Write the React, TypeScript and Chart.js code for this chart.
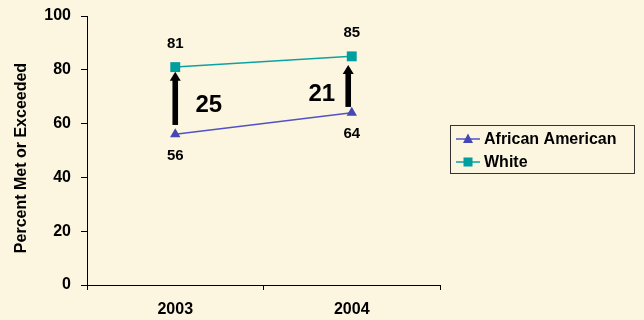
import React, { useEffect, useRef } from "react";
import { Chart, registerables } from "chart.js";

Chart.register(...registerables);

const years = ["2003", "2004"];
const africanAmerican = [56, 64];
const white = [81, 85];
const seriesNames = ["African American", "White"];
const gapLabels = ["25", "21"];
const gapLabelX = [0.19, 0.83];
const gapLabelY = [66.9, 70.9];
const arrowX = [0, 0.98];
const arrowFrom = [59.5, 66.2];
const arrowTo = [79.3, 81.8];
const yAxisTitle = "Percent Met or Exceeded";

const FONT = "'Liberation Sans', Arial, sans-serif";
const BG = "#FCF5DF";
const AA_LINE = "#5252C6";
const AA_MARK = "#4646B4";
const W_LINE = "#0AA3A3";
const W_MARK = "#009E9E";

function drawArrow(ctx: CanvasRenderingContext2D, x: number, yBottom: number, yTip: number) {
  const headH = 9;
  const headW = 11;
  ctx.save();
  ctx.fillStyle = "#000";
  ctx.fillRect(x - 2.8, yTip + headH - 1, 5.6, yBottom - yTip - headH + 1);
  ctx.beginPath();
  ctx.moveTo(x, yTip);
  ctx.lineTo(x - headW / 2, yTip + headH);
  ctx.lineTo(x + headW / 2, yTip + headH);
  ctx.closePath();
  ctx.fill();
  ctx.restore();
}

const annotations = {
  id: "annotations",
  beforeDraw(chart: any) {
    const ctx = chart.ctx;
    ctx.save();
    ctx.fillStyle = BG;
    ctx.fillRect(0, 0, chart.width, chart.height);
    ctx.restore();
  },
  afterDatasetsDraw(chart: any) {
    const ctx: CanvasRenderingContext2D = chart.ctx;
    const xs = chart.scales.x;
    const ys = chart.scales.y;
    arrowX.forEach((v, i) => {
      drawArrow(ctx, xs.getPixelForValue(v), ys.getPixelForValue(arrowFrom[i]), ys.getPixelForValue(arrowTo[i]));
    });
    ctx.save();
    ctx.fillStyle = "#000";
    ctx.textAlign = "center";
    ctx.textBaseline = "middle";
    ctx.font = `bold 24px ${FONT}`;
    gapLabels.forEach((t, i) => {
      ctx.fillText(t, xs.getPixelForValue(gapLabelX[i]), ys.getPixelForValue(gapLabelY[i]));
    });
    ctx.font = `bold 15px ${FONT}`;
    white.forEach((v, i) => {
      ctx.fillText(String(v), xs.getPixelForValue(i), ys.getPixelForValue(v) - 23);
    });
    africanAmerican.forEach((v, i) => {
      ctx.fillText(String(v), xs.getPixelForValue(i), ys.getPixelForValue(v) + 21);
    });
    ctx.save();
    ctx.font = `bold 16px ${FONT}`;
    ctx.translate(21.5, 158);
    ctx.rotate(-Math.PI / 2);
    ctx.fillText(yAxisTitle, 0, 0);
    ctx.restore();
    const lx = 450, ly = 125, lw = 184, lh = 48;
    ctx.strokeStyle = "#333";
    ctx.lineWidth = 1;
    ctx.strokeRect(lx + 0.5, ly + 0.5, lw, lh);
    const rows = [
      { name: seriesNames[0], line: AA_LINE, mark: AA_MARK, style: "triangle", y: ly + 14 },
      { name: seriesNames[1], line: W_LINE, mark: W_MARK, style: "rect", y: ly + 37 },
    ];
    rows.forEach((r) => {
      ctx.strokeStyle = r.line;
      ctx.lineWidth = 1.5;
      ctx.beginPath();
      ctx.moveTo(lx + 6, r.y);
      ctx.lineTo(lx + 30, r.y);
      ctx.stroke();
      ctx.fillStyle = r.mark;
      ctx.beginPath();
      if (r.style === "triangle") {
        ctx.moveTo(lx + 18, r.y - 5.5);
        ctx.lineTo(lx + 23, r.y + 4);
        ctx.lineTo(lx + 13, r.y + 4);
        ctx.closePath();
        ctx.fill();
      } else {
        ctx.fillRect(lx + 13.5, r.y - 4.5, 9, 9);
      }
      ctx.fillStyle = "#000";
      ctx.textAlign = "left";
      ctx.font = `bold 16px ${FONT}`;
      ctx.fillText(r.name, lx + 34, r.y + 1);
    });
    ctx.restore();
  },
};

export default function App() {
  const ref = useRef<HTMLCanvasElement | null>(null);
  useEffect(() => {
    if (!ref.current) return;
    const chart = new Chart(ref.current, {
      type: "line",
      data: {
        labels: years,
        datasets: [
          {
            label: seriesNames[0],
            data: africanAmerican,
            borderColor: AA_LINE,
            backgroundColor: AA_MARK,
            borderWidth: 1.5,
            pointStyle: "triangle",
            pointRadius: 6,
            pointBorderWidth: 0,
            pointBackgroundColor: AA_MARK,
            pointBorderColor: AA_MARK,
          },
          {
            label: seriesNames[1],
            data: white,
            borderColor: W_LINE,
            backgroundColor: W_MARK,
            borderWidth: 1.5,
            pointStyle: "rect",
            pointRadius: 7,
            pointBorderWidth: 0,
            pointBackgroundColor: W_MARK,
            pointBorderColor: W_MARK,
          },
        ],
      },
      options: {
        responsive: false,
        animation: false,
        events: [],
        layout: { padding: { top: 16, right: 204, left: 0, bottom: 0 } },
        plugins: { legend: { display: false }, tooltip: { enabled: false } },
        scales: {
          x: {
            offset: true,
            grid: { offset: true, drawOnChartArea: false, color: "#000", tickLength: 5, tickWidth: 1 },
            border: { display: true, color: "#000", width: 1 },
            ticks: { color: "#000", font: { family: FONT, size: 16, weight: "bold" }, padding: 10 },
            afterFit: (s: any) => { s.height = 35; s.paddingLeft = 0; s.paddingRight = 0; },
          },
          y: {
            min: 0,
            max: 100,
            ticks: { stepSize: 20, color: "#000", font: { family: FONT, size: 16, weight: "bold" }, padding: 10 },
            grid: { drawOnChartArea: false, color: "#000", tickLength: 6 },
            border: { display: true, color: "#000", width: 1 },
            afterFit: (s: any) => { s.width = 87; s.paddingTop = 0; s.paddingBottom = 0; },
          },
        },
      },
      plugins: [annotations],
    });
    return () => chart.destroy();
  }, []);
  return (
    <div style={{ position: "absolute", left: 0, top: 0, width: 644, height: 320 }}>
      <canvas ref={ref} width={644} height={320} style={{ display: "block" }} />
    </div>
  );
}
